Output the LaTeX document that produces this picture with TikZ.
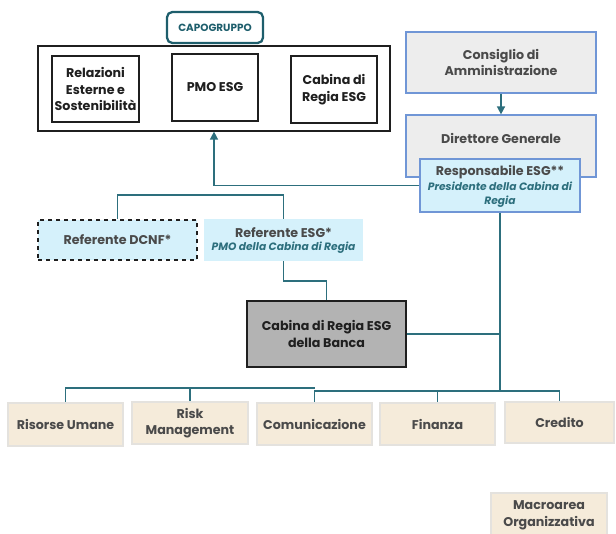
\documentclass[tikz,border=0pt]{standalone}
\usepackage{fontspec}
\setmainfont{Poppins}
\usetikzlibrary{fit,arrows.meta}
\definecolor{teal1}{HTML}{2D6F7D}
\definecolor{tealdark}{HTML}{1E5E6C}
\definecolor{txtgray}{HTML}{4A4A4A}
\definecolor{txtdark}{HTML}{1F1F1F}
\definecolor{lcyan}{HTML}{D5F1FB}
\definecolor{lgray}{HTML}{EDEDED}
\definecolor{bblue}{HTML}{7096D6}
\definecolor{beige}{HTML}{F5EBDA}
\definecolor{beigeb}{HTML}{E4E2DE}
\definecolor{mgray}{HTML}{B3B3B3}
\tikzset{
  lbl/.style={inner sep=0pt, align=center, font=\fontsize{9.5}{12.5}\selectfont\bfseries},
  shape box/.style={inner sep=0pt},
  topbox/.style={shape box, draw=txtdark, line width=0.8pt},
  bluebox/.style={shape box, draw=bblue, line width=0.9pt, fill=lgray},
  cyanbox/.style={shape box, fill=lcyan},
  unitbox/.style={shape box, draw=beigeb, line width=0.8pt, fill=beige},
  dk/.style={lbl, text=txtdark},
  gr/.style={lbl, text=txtgray},
  conn/.style={draw=teal1, line width=1.1pt},
  arr/.style={conn, -{Triangle[length=6pt,width=6pt]}},
  ital/.style={inner sep=0pt, align=center, font=\fontsize{8}{10.5}\selectfont\bfseries\itshape, text=teal1}
}
\begin{document}
\begin{tikzpicture}[x=0.75pt,y=-0.75pt]
\useasboundingbox (0,0) rectangle (616,533);
% Capogruppo
\node[fit={(167,12) (263,43)}, shape box, draw=tealdark, line width=1.7pt, rounded corners=4pt,
      label={[lbl, text=tealdark, font=\fontsize{7.8}{9}\selectfont\bfseries]center:CAPOGRUPPO}] (capo) {};
\node[fit={(38,46) (390,131)}, shape box, draw=txtdark, line width=0.9pt] (outer) {};
\node[fit={(52,56) (139,122)}, topbox, label={[dk]center:Relazioni\\Esterne e\\Sostenibilità}] (rel) {};
\node[fit={(172,54) (258,121)}, topbox, label={[dk]center:PMO ESG}] (pmo) {};
\node[fit={(291,56) (377,123)}, topbox, label={[dk]center:Cabina di\\Regia ESG}] (cab) {};
% right column
\node[fit={(406,32) (596,93)}, bluebox, label={[gr]center:Consiglio di\\Amministrazione}] (cda) {};
\node[fit={(406,115) (596,177)}, bluebox] (dg) {};
\node[gr] (dgt) at (501,138) {Direttore Generale};
\node[fit={(420,159) (580,212)}, cyanbox, draw=bblue, line width=0.9pt] (resp) {};
\node[gr] (respt) at (500,172) {Responsabile ESG**};
\node[ital] (respi) at (500,195) {Presidente della Cabina di\\Regia};
% referenti
\node[fit={(38,220) (197,260)}, cyanbox, draw=txtdark, dashed, line width=0.9pt,
      label={[gr]center:Referente DCNF*}] (dcnf) {};
\node[fit={(204,219) (363,261)}, cyanbox] (refesg) {};
\node[gr] (refesgt) at (283.5,233) {Referente ESG*};
\node[ital] (refesgi) at (283.5,248) {PMO della Cabina di Regia};
% cabina banca
\node[fit={(247,301) (406,367)}, shape box, fill=mgray, draw=txtdark, line width=1.1pt,
      label={[dk]center:Cabina di Regia ESG\\della Banca}] (banca) {};
% units
\node[fit={(8,403) (123,446)}, unitbox, label={[gr]center:Risorse Umane}] (ru) {};
\node[fit={(132,402) (248,444)}, unitbox, label={[gr]center:Risk\\Management}] (rm) {};
\node[fit={(257,403) (372,445)}, unitbox, label={[gr]center:Comunicazione}] (com) {};
\node[fit={(380,403) (495,445)}, unitbox, label={[gr]center:Finanza}] (fin) {};
\node[fit={(505,402) (614,443)}, unitbox, label={[gr]center:Credito}] (cre) {};
\node[fit={(491,493) (607,545)}, unitbox] (macro) {};
\node[gr] (macrot) at (549,515) {Macroarea\\Organizzativa};
% connectors
\draw[arr] (cda.south) -- (dg.north);
\draw[arr] (resp.west) -| (outer.south);
\draw[conn] (dcnf.north) |- (200,195) -| (refesg.north);
\draw[conn] (refesg.south) |- (300,281) -| (banca.north);
\coordinate (bus) at (500,391);
\coordinate (busL) at (314.5,388);
\draw[conn] (resp.south) -- (bus);
\draw[conn] (banca.east) -- (banca.east -| bus);
\draw[conn] (bus) -| (com.north);
\draw[conn] (bus) -| (fin.north);
\draw[conn] (bus) -| (cre.north);
\draw[conn] (busL) -| (ru.north);
\draw[conn] (busL) -| (rm.north);
\end{tikzpicture}
\end{document}
